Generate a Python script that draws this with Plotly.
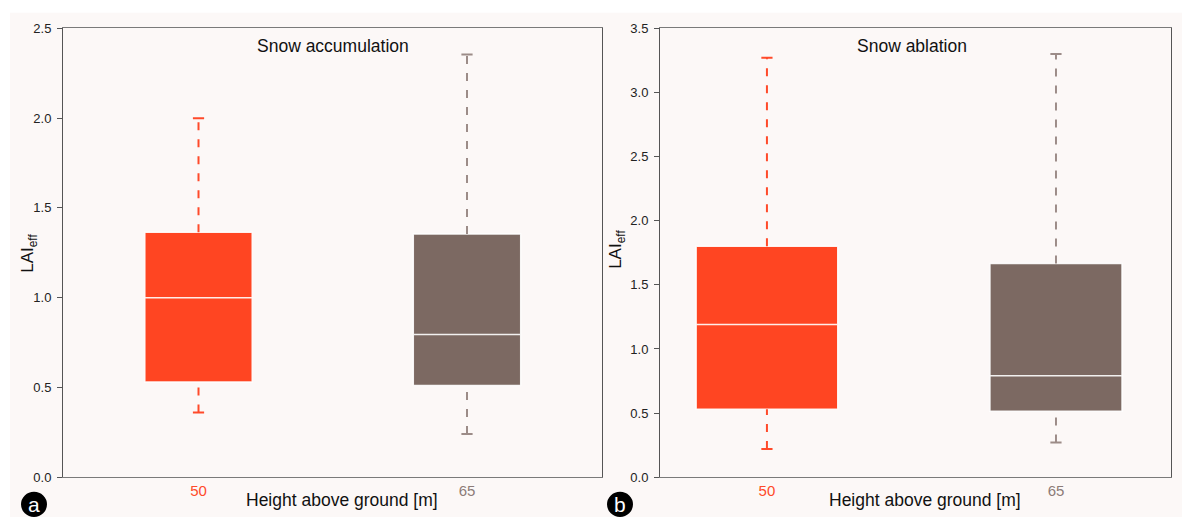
import plotly.graph_objects as go

W, H = 1182, 525

# ---- data ----
heights = ["50", "65"]
acc_q1 = [0.53, 0.51]
acc_median = [1.00, 0.795]
acc_q3 = [1.365, 1.355]
acc_low = [0.36, 0.24]
acc_high = [2.00, 2.355]

abl_q1 = [0.53, 0.515]
abl_median = [1.19, 0.79]
abl_q3 = [1.80, 1.667]
abl_low = [0.22, 0.27]
abl_high = [3.27, 3.30]

box_colors = ["#ff4522", "#7c6962"]
whisker_colors = ["#ff4a2a", "#9c8c88"]
tick_colors = ["#ff4a2a", "#8c7c78"]

BG = "#fcf8f7"

fig = go.Figure()

def add_panel(q1, med, q3, lo, hi, xa, ya, widths):
    for i in range(len(heights)):
        fig.add_trace(go.Box(
            x=[i], q1=[q1[i]], median=[med[i]], q3=[q3[i]],
            lowerfence=[q1[i]], upperfence=[q3[i]],
            fillcolor=box_colors[i], line=dict(color="rgba(255,255,255,0.9)", width=1.5),
            width=widths[i], boxpoints=False, showlegend=False, hoverinfo="skip",
            xaxis=xa, yaxis=ya))
        for seg in ([q3[i], hi[i]], [lo[i], q1[i]]):
            fig.add_trace(go.Scatter(
                x=[i, i], y=seg, mode="lines",
                line=dict(color=whisker_colors[i], width=2, dash="8px,9px"),
                showlegend=False, hoverinfo="skip", xaxis=xa, yaxis=ya))
        fig.add_trace(go.Scatter(
            x=[i, i], y=[lo[i], hi[i]], mode="markers",
            marker=dict(symbol="line-ew", size=8,
                        line=dict(color=whisker_colors[i], width=2)),
            showlegend=False, hoverinfo="skip", xaxis=xa, yaxis=ya))

add_panel(acc_q1, acc_median, acc_q3, acc_low, acc_high, "x", "y", [0.4, 0.4])
add_panel(abl_q1, abl_median, abl_q3, abl_low, abl_high, "x2", "y2", [0.49, 0.457])

ydom = [1 - 484 / H, 1 - 22 / H]
ticktext = [f'<span style="color:{c}">{h}</span>' for h, c in zip(heights, tick_colors)]

xcommon = dict(showline=True, linecolor="#7a7a7a", linewidth=1, mirror=True,
               showgrid=False, zeroline=False, ticks="", tickvals=[0, 1],
               ticktext=ticktext, tickfont=dict(size=15), fixedrange=True)
ycommon = dict(showline=True, linecolor="#555555", linewidth=1, mirror=True,
               showgrid=False, zeroline=False, ticks="outside", ticklen=5,
               tickcolor="#555555", dtick=0.5, tickformat=".1f",
               tickfont=dict(size=13, color="#222222"), ticklabelstandoff=3)

fig.update_layout(
    width=W, height=H,
    margin=dict(l=0, r=0, t=0, b=0),
    paper_bgcolor="white", plot_bgcolor=BG,
    font=dict(family="Liberation Sans, Arial, sans-serif", color="#222222"),
    xaxis=dict(domain=[63 / W, 602 / W], range=[-0.5047, 1.5028], anchor="y", **xcommon),
    yaxis=dict(domain=ydom, range=[0, 2.5], anchor="x", **ycommon),
    xaxis2=dict(domain=[660 / W, 1171 / W], range=[-0.370, 1.398], anchor="y2", **xcommon),
    yaxis2=dict(domain=ydom, range=[0, 3.5], anchor="x2", **ycommon),
)

shapes = [dict(type="rect", xref="paper", yref="paper", x0=10 / W, x1=1, y0=0, y1=1 - 6 / H,
               fillcolor=BG, line=dict(width=0), layer="below")]
annotations = []

def px(x, y):
    return x / W, 1 - y / H

for (cx, cy, letter) in [(34, 512, "a"), (620, 512, "b")]:
    r = 13
    shapes.append(dict(type="circle", xref="paper", yref="paper",
                       x0=(cx - r) / W, x1=(cx + r) / W, y0=1 - (cy + r) / H, y1=1 - (cy - r) / H,
                       fillcolor="black", line=dict(width=0), layer="above"))
    X, Y = px(cx, cy)
    annotations.append(dict(text=letter, x=X, y=Y, xref="paper", yref="paper",
                            showarrow=False, xanchor="center", yanchor="middle",
                            font=dict(size=21, color="white")))

for text, x, y in [("Snow accumulation", 333, 40), ("Snow ablation", 912, 40),
                   ("Height above ground [m]", 342, 508), ("Height above ground [m]", 925, 508)]:
    X, Y = px(x, y)
    annotations.append(dict(text=text, x=X, y=Y, xref="paper", yref="paper",
                            showarrow=False, xanchor="center", yanchor="middle",
                            font=dict(size=17.5, color="#111111")))

for x, y in [(29, 253), (617, 250)]:
    X, Y = px(x, y)
    annotations.append(dict(text="LAI<sub>eff</sub>", x=X, y=Y, xref="paper", yref="paper",
                            showarrow=False, xanchor="center", yanchor="middle", textangle=-90,
                            font=dict(size=17, color="#111111")))

fig.update_layout(shapes=shapes, annotations=annotations)
fig.write_html("out.html")
